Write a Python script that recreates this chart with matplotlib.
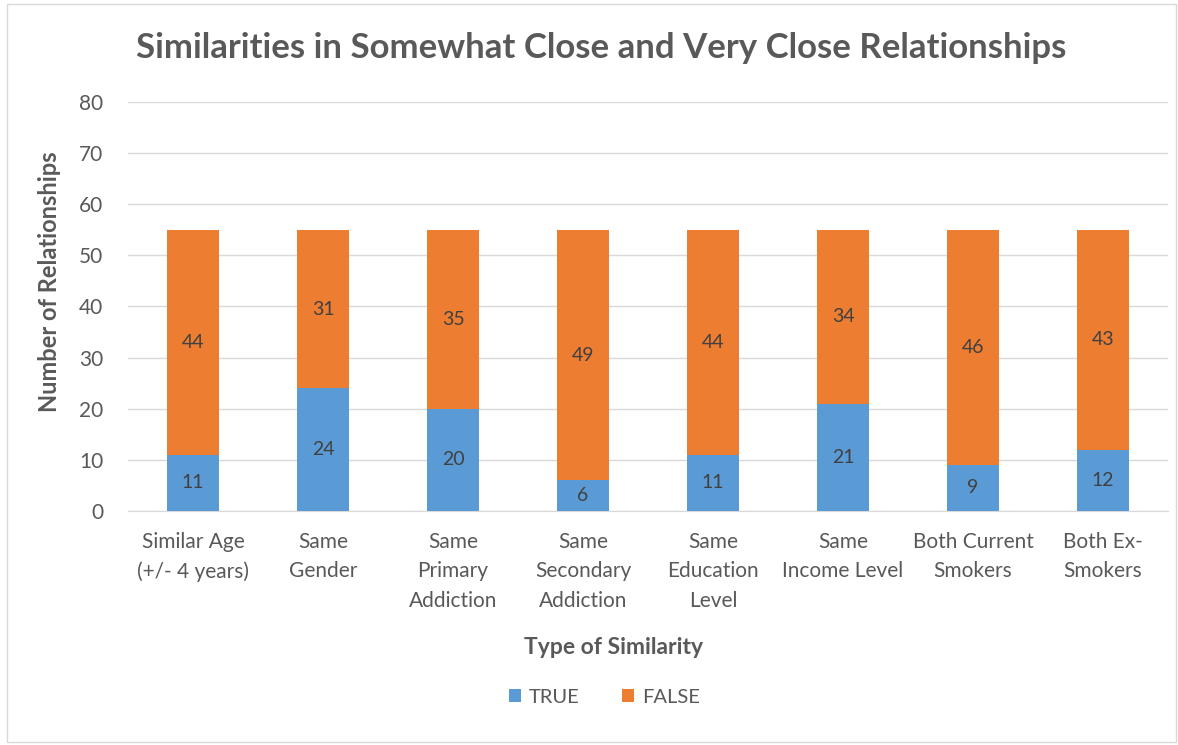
import matplotlib
matplotlib.use("Agg")
import matplotlib.pyplot as plt
from matplotlib.patches import Rectangle
import numpy as np

categories = ["Similar Age\n(+/- 4 years)", "Same\nGender", "Same\nPrimary\nAddiction",
              "Same\nSecondary\nAddiction", "Same\nEducation\nLevel", "Same\nIncome Level",
              "Both Current\nSmokers", "Both Ex-\nSmokers"]
true_vals = [11, 24, 20, 6, 11, 21, 9, 12]
false_vals = [44, 31, 35, 49, 44, 34, 46, 43]
yticks = [0, 10, 20, 30, 40, 50, 60, 70, 80]

BLUE = "#5B9BD5"
ORANGE = "#ED7D31"
TXT = "#595959"
FONT = ["Lato", "DejaVu Sans"]
plt.rcParams['font.family'] = FONT

fig = plt.figure(figsize=(11.78, 7.45), dpi=100)
fig.patches.append(Rectangle((0.006, 0.004), 0.992, 0.99, transform=fig.transFigure,
                             fill=False, edgecolor="#D9D9D9", lw=1))
ax = fig.add_axes([0.1087, 0.3141, 0.8828, 0.549])

x = np.arange(len(categories))
w = 0.4
b1 = ax.bar(x, true_vals, w, color=BLUE, label="TRUE", zorder=3)
b2 = ax.bar(x, false_vals, w, bottom=true_vals, color=ORANGE, label="FALSE", zorder=3)

for i in range(len(x)):
    ax.text(x[i], true_vals[i] / 2, str(true_vals[i]), ha="center", va="center",
            fontsize=14, color="#404040", zorder=4)
    ax.text(x[i], true_vals[i] + false_vals[i] / 2, str(false_vals[i]), ha="center",
            va="center", fontsize=14, color="#404040", zorder=4)

ax.set_xlim(-0.5, len(categories) - 0.5)
ax.set_ylim(0, 80)
ax.set_yticks(yticks)
ax.yaxis.grid(True, color="#D9D9D9", lw=1, zorder=0)
ax.set_axisbelow(True)
for s in ["top", "right", "left"]:
    ax.spines[s].set_visible(False)
ax.spines["bottom"].set_color("#D9D9D9")
ax.tick_params(axis="both", length=0, labelsize=15, colors=TXT)
ax.tick_params(axis="y", pad=18)
ax.tick_params(axis="x", pad=15)
ax.set_xticks(x)
ax.set_xticklabels(categories, linespacing=1.6, va="top", fontsize=15)

fig.text(0.0424, 0.6215, "Number of Relationships", rotation=90, ha="center", va="center",
         fontsize=17, fontweight="bold", color=TXT)
fig.text(0.521, 0.1315, "Type of Similarity", ha="center", va="center",
         fontsize=16.5, fontweight="bold", color=TXT)

fig.text(0.510, 0.9356, "Similarities in Somewhat Close and Very Close Relationships",
         ha="center", va="center", fontsize=25, fontweight="bold", color=TXT)

fig.legend(handles=[b1, b2], labels=["TRUE", "FALSE"], loc="center",
           bbox_to_anchor=(0.513, 0.0644), ncol=2, frameon=False, fontsize=14.5,
           handlelength=0.6, handleheight=0.6, columnspacing=2.1, handletextpad=0.4,
           labelcolor=TXT)

fig.savefig("out.png", dpi=100)
